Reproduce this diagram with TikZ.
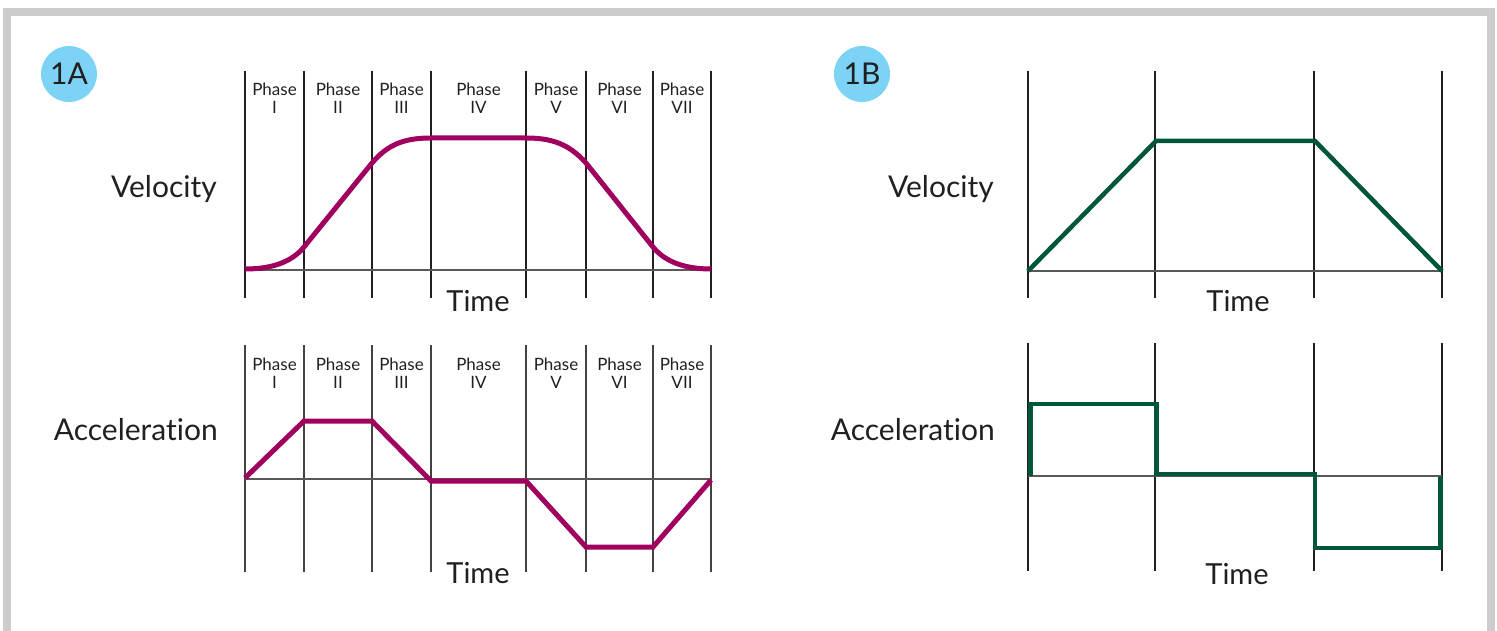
\documentclass[tikz,border=0pt]{standalone}
\usepackage{fontspec}
\setmainfont{Lato}[Ligatures=CommonOff]
\usepackage{tikz}
\definecolor{plum}{RGB}{160,0,94}
\definecolor{pine}{RGB}{0,87,55}
\definecolor{skyblue}{RGB}{125,211,245}
\definecolor{ink}{RGB}{35,31,32}
\definecolor{framegray}{RGB}{204,204,204}
\usetikzlibrary{positioning}

\begin{document}
\begin{tikzpicture}
[x=1pt, y=-1pt,
 grid/.style={ink, line width=2pt},
 thingrid/.style={ink!85, line width=1.5pt},
 axis/.style={ink!75, line width=1.4pt},
 smooth/.style={plum, line width=5pt},
 sharp/.style={pine, line width=4.5pt},
 badge/.style={circle, fill=skyblue, minimum size=56pt, inner sep=0pt, text=ink, font=\fontsize{30}{30}\selectfont},
 qty/.style={anchor=base east, inner sep=0pt, text=ink, font=\fontsize{30}{30}\selectfont},
 tlbl/.style={anchor=base, inner sep=0pt, text=ink, font=\fontsize{29}{30}\selectfont},
 phase/.style={anchor=north, align=center, inner sep=0pt, text=ink, font=\fontsize{17}{18}\selectfont}]
\useasboundingbox (0,0) rectangle (1497,631);
\draw[framegray, line width=8pt] (7,631) -- (7,12) -- (1490.5,12) -- (1490.5,631);

% 1A
\node[badge] (ba) at (69,74) {1A};
\node[qty] (va) at (217,198) {Velocity};
\node[qty] (aa) at (218,440) {Acceleration};
\draw[grid] (245,71) -- (245,298) (304,71) -- (304,298) (372,71) -- (372,298) (431,71) -- (431,298)
 (526,71) -- (526,298) (586,71) -- (586,298) (653,71) -- (653,298) (711,71) -- (711,298);
\draw[thingrid] (245,345) -- (245,572) (304,345) -- (304,572) (372,345) -- (372,572) (431,345) -- (431,572)
 (526,345) -- (526,572) (586,345) -- (586,572) (653,345) -- (653,572) (711,345) -- (711,572);
\draw[axis] (245,270) -- (711,270);
\draw[axis] (245,479) -- (711,479);
\node[phase] (v1) at (274.5,83) {Phase\\I}; \node[phase] (v2) at (338,83) {Phase\\II};
\node[phase] (v3) at (401.5,83) {Phase\\III}; \node[phase] (v4) at (478.5,83) {Phase\\IV};
\node[phase] (v5) at (556,83) {Phase\\V}; \node[phase] (v6) at (619.5,83) {Phase\\VI};
\node[phase] (v7) at (682,83) {Phase\\VII};
\node[phase] (a1) at (274.5,358) {Phase\\I}; \node[phase] (a2) at (338,358) {Phase\\II};
\node[phase] (a3) at (401.5,358) {Phase\\III}; \node[phase] (a4) at (478.5,358) {Phase\\IV};
\node[phase] (a5) at (556,358) {Phase\\V}; \node[phase] (a6) at (619.5,358) {Phase\\VI};
\node[phase] (a7) at (682,358) {Phase\\VII};
\draw[smooth] (245,269) .. controls (272.5,269) and (292,261.7) .. (304,247) -- (372,163)
 .. controls (388,144) and (405,138) .. (431,138) -- (526,138)
 .. controls (552,138) and (569,144) .. (586,163) -- (653,247)
 .. controls (665,261.7) and (684.5,269) .. (711,269);
\draw[smooth] (245,478) -- (304,421) -- (372,421) -- (431,481) -- (526,481) -- (586,547) -- (653,547) -- (711,480);
\node[tlbl] (ta) at (478,311) {Time};
\node[tlbl] (tb) at (478,583) {Time};

% 1B
\node[badge] (bb) at (862,74) {1B};
\node[qty] (vb) at (994,198) {Velocity};
\node[qty] (ab) at (995,440) {Acceleration};
\draw[grid] (1028,71) -- (1028,298) (1155,71) -- (1155,298) (1314,71) -- (1314,298) (1442,71) -- (1442,298);
\draw[grid] (1028,343) -- (1028,571) (1155,343) -- (1155,571) (1314,343) -- (1314,571) (1442,343) -- (1442,571);
\draw[axis] (1028,271) -- (1442,271);
\draw[axis] (1028,476) -- (1442,476);
\draw[sharp] (1028,271) -- (1156,141) -- (1315,141) -- (1442,271);
\draw[sharp] (1030.5,476) -- (1030.5,404) -- (1156.5,404) -- (1156.5,474) -- (1315,474) -- (1315,548) -- (1440.5,548) -- (1440.5,477);
\node[tlbl] (tc) at (1238,311) {Time};
\node[tlbl] (td) at (1237,584) {Time};

\end{tikzpicture}
\end{document}
